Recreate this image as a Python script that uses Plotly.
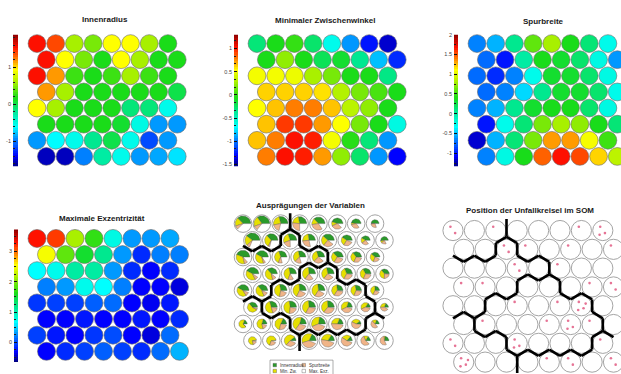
import numpy as np
import plotly.graph_objects as go

W, H = 621, 374
NR, NC = 8, 8

# ---------------- data ----------------
innenradius = [
    [1.53, 1.38, 0.60, 0.46, 0.92, 0.92, 0.60, 0.18],
    [1.53, 0.92, 0.46, 0.18, 0.92, 0.60, 0.18, 0.18],
    [1.53, 1.17, 0.28, 0.18, 0.28, 0.60, 0.28, 0.18],
    [1.17, 0.60, 0.18, 0.18, 0.18, 0.18, 0.18, 0.03],
    [0.92, 0.60, 0.18, 0.18, 0.18, -0.11, -0.11, -0.53],
    [0.18, 0.18, 0.18, 0.18, 0.11, -0.50, -0.89, -0.89],
    [-0.89, -0.61, -0.53, -0.18, 0.03, -0.53, -1.14, -0.89],
    [-1.53, -1.53, -0.96, -0.25, -0.53, -0.89, -0.85, -0.68],
]
min_zwischenwinkel = [
    [-0.29, -0.06, 0.00, -0.26, -0.63, -0.92, -1.26, -1.40],
    [-0.06, 0.22, -0.06, -0.21, -0.12, -0.35, -0.83, -1.20],
    [0.50, 0.50, 0.48, 0.28, 0.16, -0.06, -0.06, -0.32],
    [0.62, 0.62, 0.62, 0.59, 0.31, 0.16, 0.05, -0.06],
    [0.53, 0.65, 0.79, 0.79, 0.65, 0.33, 0.22, -0.06],
    [0.65, 0.93, 0.93, 0.73, 0.53, 0.16, -0.06, -0.60],
    [0.65, 0.79, 1.02, 0.99, 0.50, -0.03, -0.29, -0.92],
    [0.79, 1.02, 0.99, 0.73, 0.22, -0.26, -0.92, -1.31],
]
spurbreite = [
    [-0.66, -0.53, 0.07, 0.60, 0.80, 0.40, 0.14, -0.26],
    [-0.73, -1.00, 0.00, 0.40, 0.34, 0.17, -0.23, -0.60],
    [-0.73, -0.93, -0.66, -0.26, 0.34, 0.34, 0.17, -0.23],
    [-0.73, -0.66, -0.43, 0.07, 0.34, 0.34, 0.17, -0.26],
    [-0.66, -0.53, 0.07, 0.34, 0.40, 0.40, 0.17, -0.23],
    [-1.00, -0.26, 0.14, 0.67, 0.80, 0.73, 0.40, 0.14],
    [-1.16, -0.53, 0.14, 0.67, 1.33, 1.33, 1.07, 0.50],
    [-0.66, -0.23, 0.40, 1.47, 1.67, 1.53, 1.20, 0.87],
]
max_exzentrizitaet = [
    [3.28, 3.15, 2.15, 1.71, 0.79, 0.31, 0.31, 0.36],
    [2.50, 1.88, 1.54, 1.19, 0.31, -0.13, 0.22, 0.22],
    [0.66, 0.75, 1.10, 1.10, 0.31, -0.13, -0.30, -0.13],
    [0.22, 0.31, 0.75, 0.66, 0.22, -0.30, -0.30, -0.39],
    [-0.08, -0.04, -0.04, 0.09, 0.14, -0.30, -0.34, -0.21],
    [-0.30, -0.30, -0.21, -0.30, -0.30, -0.21, -0.30, -0.13],
    [-0.04, -0.21, -0.30, -0.08, 0.01, -0.30, -0.39, 0.14],
    [-0.30, -0.13, -0.04, 0.09, -0.04, -0.13, 0.14, 0.40],
]
cluster_labels = [
    [1, 1, 1, 2, 2, 2, 2, 2],
    [1, 1, 3, 2, 2, 2, 2, 2],
    [3, 3, 3, 3, 3, 2, 2, 2],
    [3, 3, 3, 6, 6, 2, 2, 2],
    [3, 3, 6, 6, 6, 6, 6, 2],
    [4, 6, 6, 6, 6, 6, 6, 2],
    [4, 4, 4, 6, 6, 6, 6, 5],
    [4, 4, 4, 5, 5, 5, 5, 5],
]
unfall_counts = [
    [2, 0, 1, 0, 0, 0, 1, 3],
    [0, 0, 2, 1, 0, 1, 0, 1],
    [0, 0, 0, 2, 0, 1, 0, 0],
    [1, 1, 0, 0, 0, 0, 1, 2],
    [0, 0, 0, 1, 0, 1, 4, 0],
    [0, 1, 0, 0, 1, 3, 1, 0],
    [2, 0, 0, 3, 0, 0, 0, 1],
    [4, 0, 0, 0, 1, 2, 0, 2],
]
panel_titles = ["Innenradius", "Minimaler Zwischenwinkel", "Spurbreite",
                "Maximale Exzentrizität", "Ausprägungen der Variablen",
                "Position der Unfallkreisel im SOM"]
cbar_ranges = [(-1.67, 1.88), (-1.54, 1.30), (-1.33, 2.0), (-0.65, 3.72)]
cbar_ticks = [[-1, 0, 1], [-1.5, -1, -0.5, 0, 0.5, 1],
              [-1, -0.5, 0, 0.5, 1, 1.5, 2], [0, 1, 2, 3]]
cbar_minor = [0.2, 1 / 6, 0.25, 0.25]
legend_labels = ["Innenradius", "Min. Zw.", "Spurbreite", "Max. Exz."]

# ---------------- style ----------------
SOM_JET = [
    [0.0, '#00007f'], [0.08, '#0000ff'], [0.2, '#0080ff'], [0.3, '#00ffff'],
    [0.42, '#00e890'], [0.52, '#19dc19'], [0.64, '#a8f000'], [0.73, '#ffff00'],
    [0.8, '#ff9900'], [0.9, '#ff1000'], [1.0, '#900000'],
]
PIE_COLORS = ['#2a9a2a', '#e6e000', '#f0b488', '#ffffff']
PIE_LINES = ['#4a4a4a', '#4a4a4a', '#4a4a4a', 'rgba(0,0,0,0)']
FONT = "Liberation Sans"

# panel geometry in pixels: r1c1 centre (x0,y0), column step dx, row step dy,
# axes box L,T,R,B, marker size
GEOM = [
    (37, 41, 18.7, 16.3, 22, 26, 196, 170, 17.8),
    (257, 41, 18.7, 16.3, 243, 26, 416, 170, 17.8),
    (477, 41, 18.7, 16.3, 463, 26, 621, 170, 17.8),
    (37, 238, 19.0, 16.3, 22, 224, 196, 368, 18.0),
    (243, 223, 18.86, 16.9, 228, 210, 400, 357, 17.6),
    (453, 230, 21.4, 19.0, 436, 214, 621, 374, 20.2),
]
CBAR = [(13, 32, 18, 165), (234, 32, 238, 165), (454, 32, 458, 165), (14, 229, 18, 363)]
TITLE_POS = [(105, 17), (325, 18), (543, 19), (102, 218), (310, 205), (530, 210)]

fig = go.Figure()
layout = {}


def ax_names(i):
    return ('xaxis' if i == 1 else f'xaxis{i}', 'yaxis' if i == 1 else f'yaxis{i}',
            'x' if i == 1 else f'x{i}', 'y' if i == 1 else f'y{i}')


def cell_xy(r, c):
    return c + 0.5 * (r % 2), r


for p, (x0, y0, dx, dy, L, T, R, B, ms) in enumerate(GEOM):
    i = p + 1
    xa, ya, xr, yr = ax_names(i)
    layout[xa] = dict(domain=[L / W, R / W], range=[(L - x0) / dx, (R - x0) / dx],
                      visible=False, anchor=yr)
    layout[ya] = dict(domain=[1 - B / H, 1 - T / H], range=[(B - y0) / dy, (T - y0) / dy],
                      visible=False, anchor=xr)

grid = [cell_xy(r, c) for r in range(NR) for c in range(NC)]
gx = [g[0] for g in grid]
gy = [g[1] for g in grid]

# ---- component planes ----
planes = [innenradius, min_zwischenwinkel, spurbreite, max_exzentrizitaet]
for p, vals in enumerate(planes):
    i = p + 1
    _, _, xr, yr = ax_names(i)
    flat = [v for row in vals for v in row]
    cmin, cmax = cbar_ranges[p]
    fig.add_trace(go.Scatter(
        x=gx, y=gy, mode='markers', xaxis=xr, yaxis=yr, showlegend=False,
        hoverinfo='skip',
        marker=dict(size=GEOM[p][8], color=flat, colorscale=SOM_JET, cmin=cmin, cmax=cmax,
                    line=dict(color='#6a6a6a', width=0.6))))
    # colour bar as heatmap with its own axis
    j = 7 + p
    xa, ya, xr2, yr2 = ax_names(j)
    L, T, R, B = CBAR[p]
    levels = np.linspace(cmin, cmax, 64)
    fig.add_trace(go.Heatmap(z=[[v] for v in levels], x=[0], y=levels, colorscale=SOM_JET,
                             zmin=cmin, zmax=cmax, showscale=False, xaxis=xr2, yaxis=yr2,
                             hoverinfo='skip'))
    layout[xa] = dict(domain=[L / W, R / W], range=[-0.5, 0.5], visible=False, anchor=yr2)
    layout[ya] = dict(domain=[1 - B / H, 1 - T / H], range=[cmin, cmax], anchor=xr2,
                      side='left', showgrid=False, zeroline=False, showline=False,
                      tickvals=cbar_ticks[p], ticktext=[f"{t:g}" for t in cbar_ticks[p]],
                      tickfont=dict(size=5.5, color='#444', family=FONT),
                      ticks='inside', ticklen=2.5, tickcolor='#111', tickwidth=0.8,
                      ticklabelstandoff=1,
                      minor=dict(ticks='inside', ticklen=2, tickcolor='#222', tickwidth=0.7,
                                 dtick=cbar_minor[p], tick0=0, showgrid=False))

# ---- plain circles for panels 5 and 6 ----
for p in (4, 5):
    _, _, xr, yr = ax_names(p + 1)
    fig.add_trace(go.Scatter(
        x=gx, y=gy, mode='markers', xaxis=xr, yaxis=yr, showlegend=False, hoverinfo='skip',
        marker=dict(size=GEOM[p][8], color='white', line=dict(color='#9a9a9a', width=0.9))))

# ---- pie glyphs (panel 5) ----
x0, y0, dx, dy = GEOM[4][:4]
norms = []
for vals in planes:
    a = np.array(vals, dtype=float)
    norms.append((a - a.min()) / (a.max() - a.min()) + 0.03)
norms = np.array(norms)
sums = norms.sum(axis=0)
maxsum = sums.max()
pie_x = [[] for _ in range(4)]
pie_y = [[] for _ in range(4)]
for r in range(NR):
    for c in range(NC):
        cx, cy = cell_xy(r, c)
        rad = 0.42 * (sums[r, c] / maxsum) ** 0.8
        a0 = 0.0
        for k in range(4):
            ang = norms[k, r, c] / sums[r, c] * 2 * np.pi
            t = np.linspace(a0, a0 + ang, max(3, int(ang / 0.15) + 2))
            px = [cx] + list(cx + rad * np.cos(t)) + [cx, None]
            py = [cy] + list(cy - rad * np.sin(t) * dx / dy) + [cy, None]
            pie_x[k] += px
            pie_y[k] += py
            a0 += ang
_, _, xr5, yr5 = ax_names(5)
for k in range(3):
    fig.add_trace(go.Scatter(x=pie_x[k], y=pie_y[k], mode='lines', fill='toself',
                             fillcolor=PIE_COLORS[k], line=dict(color=PIE_LINES[k], width=0.35),
                             xaxis=xr5, yaxis=yr5, showlegend=False, hoverinfo='skip'))


# ---- cluster borders (panels 5, 6) ----
def border_segments(labels):
    xs, ys = [], []
    for r in range(NR):
        for c in range(NC):
            cx, cy = cell_xy(r, c)
            lab = labels[r][c]
            if c + 1 < NC and labels[r][c + 1] != lab:
                top = cy - 0.62 if r == 0 else cy - 1 / 3
                bot = cy + 0.62 if r == NR - 1 else cy + 1 / 3
                xs += [cx + 0.5, cx + 0.5, None]
                ys += [top, bot, None]
            if r + 1 < NR:
                ll, lr = (c - 1, c) if r % 2 == 0 else (c, c + 1)
                if 0 <= lr < NC and labels[r + 1][lr] != lab:
                    xs += [cx + 0.5, cx, None]
                    ys += [cy + 1 / 3, cy + 2 / 3, None]
                if 0 <= ll < NC and labels[r + 1][ll] != lab:
                    xs += [cx, cx - 0.5, None]
                    ys += [cy + 2 / 3, cy + 1 / 3, None]
    return xs, ys


bx, by = border_segments(cluster_labels)
for p in (4, 5):
    _, _, xr, yr = ax_names(p + 1)
    fig.add_trace(go.Scatter(x=bx, y=by, mode='lines', line=dict(color='black', width=2.6),
                             xaxis=xr, yaxis=yr, showlegend=False, hoverinfo='skip'))

# ---- accident roundabouts (panel 6) ----
PAT = [(-0.12, -0.18), (0.1, 0.12), (-0.15, 0.2), (0.2, -0.1)]
x0, y0, dx, dy = GEOM[5][:4]
ux, uy = [], []
for r in range(NR):
    for c in range(NC):
        cx, cy = cell_xy(r, c)
        for n in range(unfall_counts[r][c]):
            ux.append(cx + PAT[n][0])
            uy.append(cy + PAT[n][1] * dx / dy)
_, _, xr6, yr6 = ax_names(6)
fig.add_trace(go.Scatter(x=ux, y=uy, mode='markers', xaxis=xr6, yaxis=yr6, showlegend=False,
                         hoverinfo='skip',
                         marker=dict(size=2.6, color='#e0507a', opacity=0.8, line=dict(width=0))))

# ---- titles ----
annotations = []
for t, (tx, ty) in zip(panel_titles, TITLE_POS):
    annotations.append(dict(text=f"<b>{t}</b>", x=tx / W, y=1 - ty / H, xref='paper',
                            yref='paper', showarrow=False, xanchor='center', yanchor='middle',
                            font=dict(size=8, color='#1a1a1a', family=FONT)))

# ---- legend of panel 5 ----
shapes = [dict(type='rect', xref='paper', yref='paper', x0=270 / W, x1=333 / W,
               y0=1 - 376 / H, y1=1 - 361 / H, line=dict(color='#777', width=0.6),
               fillcolor='white', layer='above')]
LEG_POS = [(273, 366), (273, 372), (302, 366), (302, 372)]
for k, (lx, ly) in enumerate(LEG_POS):
    shapes.append(dict(type='rect', xref='paper', yref='paper', x0=lx / W, x1=(lx + 3.5) / W,
                       y0=1 - (ly + 1.7) / H, y1=1 - (ly - 1.7) / H,
                       line=dict(color='#555', width=0.4), fillcolor=PIE_COLORS[k],
                       layer='above'))
    annotations.append(dict(text=legend_labels[k], x=(lx + 5) / W, y=1 - ly / H, xref='paper',
                            yref='paper', showarrow=False, xanchor='left', yanchor='middle',
                            font=dict(size=4.5, color='#333', family=FONT)))

fig.update_layout(width=W, height=H, margin=dict(l=0, r=0, t=0, b=0),
                  paper_bgcolor='white', plot_bgcolor='rgba(0,0,0,0)',
                  annotations=annotations, shapes=shapes, showlegend=False, **layout)
fig.write_html("out.html")
